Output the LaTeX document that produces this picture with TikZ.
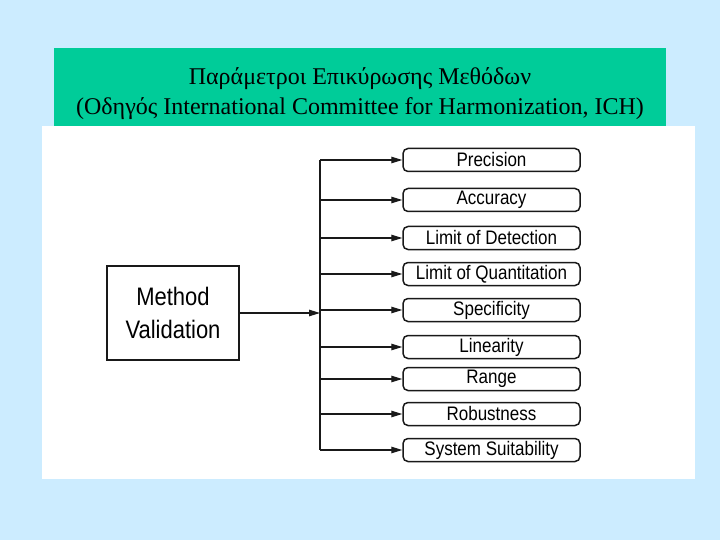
\documentclass[tikz,border=0pt]{standalone}
\usepackage{fontspec}
\setmainfont{Liberation Serif}
\newfontfamily\arialfont{Liberation Sans}
\usepackage{graphicx}
\usepackage{tikz}
\usetikzlibrary{arrows.meta}
\usetikzlibrary{positioning}
\definecolor{skyback}{RGB}{204,236,255}
\definecolor{titlegreen}{RGB}{0,204,153}
\definecolor{inkgray}{RGB}{25,25,25}
\newcommand{\tallish}[1]{\scalebox{1}[1.15]{#1}}

\begin{document}
\begin{tikzpicture}[x=1pt,y=-1pt]
\tikzstyle{param}=[draw=inkgray,line width=1.5pt,rounded corners=5pt,minimum width=177pt,minimum height=23pt,inner sep=0pt,font=\arialfont\fontsize{17}{19}\selectfont]
\tikzstyle{mainbox}=[draw=inkgray,line width=1.3pt,minimum width=132pt,minimum height=94pt,align=center,font=\arialfont\fontsize{22}{33}\selectfont]
\tikzstyle{feed}=[draw=inkgray,line width=1.2pt,-{Triangle[length=11pt,width=6.5pt]}]
% page, title band and scanned sheet
\fill[skyback] (0,0) rectangle (720,540);
\useasboundingbox (0,0) rectangle (720,540);
\fill[titlegreen] (54,48) rectangle (666,126);
\fill[white] (42,126) rectangle (695,479);
\node[align=center,font=\fontsize{24}{30}\selectfont] (title) at (360,94)
  {Παράμετροι Επικύρωσης Μεθόδων\\(Οδηγός International Committee for Harmonization, ICH)};

\node[mainbox] (MV) at (173,313) {\tallish{Method}\\\tallish{Validation}};

\node[param] (P1) at (491.5,160) {\tallish{Precision}};
\node[param] (P2) at (491.5,200) {\tallish{Accuracy}};
\node[param] (P3) at (491.5,238) {\tallish{Limit of Detection}};
\node[param] (P4) at (491.5,274) {\tallish{Limit of Quantitation}};
\node[param] (P5) at (491.5,310) {\tallish{Specificity}};
\node[param] (P6) at (491.5,347) {\tallish{Linearity}};
\node[param] (P7) at (491.5,379) {\tallish{Range}};
\node[param] (P8) at (491.5,414) {\tallish{Robustness}};
\node[param] (P9) at (491.5,450) {\tallish{System Suitability}};

% the bus line
\coordinate (top) at (320,160);
\coordinate (bot) at (320,450);
\draw[inkgray,line width=1.4pt] (top) -- (bot);
\draw[feed] (MV.east) -- (MV.east -| top);

\draw[feed] (top |- P1.west) -- (P1.west);
\draw[feed] (top |- P2.west) -- (P2.west);
\draw[feed] (top |- P3.west) -- (P3.west);
\draw[feed] (top |- P4.west) -- (P4.west);
\draw[feed] (top |- P5.west) -- (P5.west);
\draw[feed] (top |- P6.west) -- (P6.west);
\draw[feed] (top |- P7.west) -- (P7.west);
\draw[feed] (top |- P8.west) -- (P8.west);
\draw[feed] (top |- P9.west) -- (P9.west);
\end{tikzpicture}
\end{document}
